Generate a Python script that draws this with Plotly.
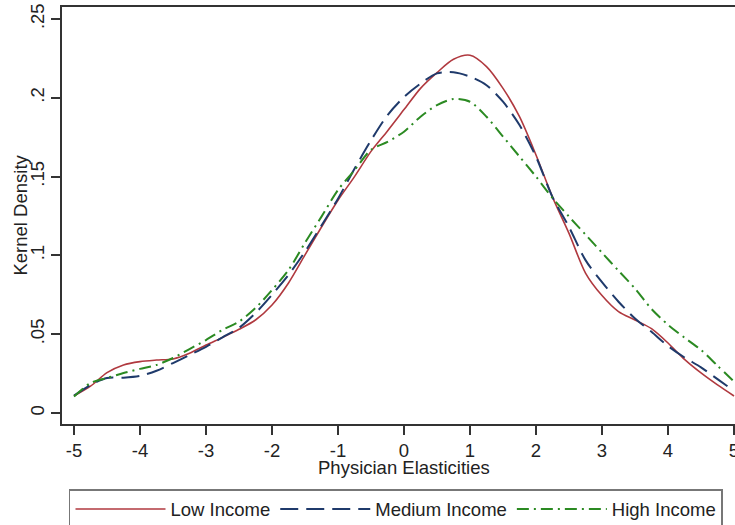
import plotly.graph_objects as go

x_vals = [-5, -4.75, -4.5, -4.25, -4, -3.75, -3.5, -3.25, -3, -2.75, -2.5, -2.25, -2,
          -1.75, -1.5, -1.25, -1, -0.75, -0.5, -0.25, 0, 0.25, 0.5, 0.75, 1, 1.25, 1.5,
          1.75, 2, 2.25, 2.5, 2.75, 3, 3.25, 3.5, 3.75, 4, 4.25, 4.5, 4.75, 5]

low_income = [0.0108, 0.017, 0.0256, 0.0305, 0.0326, 0.0336, 0.0343, 0.0379, 0.0431, 0.048,
              0.0531, 0.059, 0.0685, 0.0825, 0.1003, 0.118, 0.135, 0.150, 0.166, 0.179,
              0.1925, 0.206, 0.216, 0.2244, 0.227, 0.2198, 0.206, 0.188, 0.1637, 0.137,
              0.114, 0.0888, 0.0745, 0.0643, 0.059, 0.0535, 0.0444, 0.034, 0.0254, 0.0178, 0.0108]

medium_income = [0.011, 0.0178, 0.0222, 0.0224, 0.0235, 0.0268, 0.0317, 0.0368, 0.042, 0.048,
                 0.054, 0.0634, 0.075, 0.0876, 0.1024, 0.119, 0.136, 0.155, 0.173, 0.189,
                 0.2005, 0.209, 0.2155, 0.2162, 0.2134, 0.208, 0.1975, 0.1827, 0.1626, 0.137,
                 0.118, 0.097, 0.083, 0.0706, 0.060, 0.0515, 0.0425, 0.0352, 0.029, 0.0215, 0.014]

high_income = [0.0105, 0.019, 0.0222, 0.0254, 0.028, 0.0305, 0.0349, 0.0406, 0.0463, 0.0527,
               0.058, 0.0666, 0.078, 0.0907, 0.108, 0.1246, 0.1415, 0.154, 0.167, 0.172,
               0.1785, 0.188, 0.1954, 0.1992, 0.1975, 0.188, 0.1754, 0.1627, 0.150, 0.1364,
               0.1246, 0.1132, 0.1017, 0.0903, 0.0789, 0.066, 0.056, 0.0478, 0.040, 0.030, 0.020]

x_ticks = [-5, -4, -3, -2, -1, 0, 1, 2, 3, 4, 5]
x_tick_labels = ["-5", "-4", "-3", "-2", "-1", "0", "1", "2", "3", "4", "5"]
y_ticks = [0, 0.05, 0.1, 0.15, 0.2, 0.25]
y_tick_labels = ["0", ".05", ".1", ".15", ".2", ".25"]
x_title = "Physician Elasticities"
y_title = "Kernel Density"

FONT = "Liberation Sans, Arial, sans-serif"
FS = 18.5

fig = go.Figure()
fig.add_trace(go.Scatter(x=x_vals, y=low_income, mode="lines", name="Low Income",
                         line=dict(color="#b0393f", width=1.6, shape="spline", smoothing=0.8)))
fig.add_trace(go.Scatter(x=x_vals, y=medium_income, mode="lines", name="Medium Income",
                         line=dict(color="#1f3a6b", width=2, dash="18px,8px", shape="spline", smoothing=0.8)))
fig.add_trace(go.Scatter(x=x_vals, y=high_income, mode="lines", name="High Income",
                         line=dict(color="#2b8a22", width=2, dash="12px,5px,2px,5px", shape="spline", smoothing=0.8)))

fig.add_annotation(x=0, xref="x", y=-0.104, yref="paper", yanchor="middle",
                   text=x_title, showarrow=False, font=dict(family=FONT, size=FS, color="#222222"))
fig.add_annotation(x=-0.0624, xref="paper", xanchor="center", y=0.5, yref="paper", yanchor="middle",
                   text=y_title, textangle=-90, showarrow=False,
                   font=dict(family=FONT, size=FS, color="#222222"))

fig.update_layout(
    width=735, height=525,
    margin=dict(l=62, r=0, t=7, b=101, autoexpand=False),
    paper_bgcolor="white", plot_bgcolor="white",
    font=dict(family=FONT, size=FS, color="#222222"),
    showlegend=True,
    legend=dict(orientation="h", x=0.0104, xanchor="left", y=-0.1559, yanchor="top",
                bordercolor="#777777", borderwidth=1.5, bgcolor="white",
                font=dict(family=FONT, size=FS, color="#222222"),
                itemwidth=90),
    xaxis=dict(range=[-5.182, 5.015], tickmode="array", tickvals=x_ticks, ticktext=x_tick_labels,
               showgrid=False, zeroline=False, showline=True, mirror=True, linecolor="#333333",
               linewidth=1.5, ticks="outside", ticklen=9, tickcolor="#333333", tickwidth=1.5,
               automargin=False, ticklabeloverflow="allow"),
    yaxis=dict(range=[-0.00698, 0.25761], tickmode="array", tickvals=y_ticks, ticktext=y_tick_labels,
               showgrid=False, zeroline=False, showline=True, linecolor="#333333", linewidth=1.5,
               ticks="outside", ticklen=9, tickcolor="#333333", tickwidth=1.5, tickangle=-90,
               automargin=False, ticklabeloverflow="allow"),
)

fig.write_html("out.html", config={"displayModeBar": False},
               post_script="document.body.style.margin='0';")
